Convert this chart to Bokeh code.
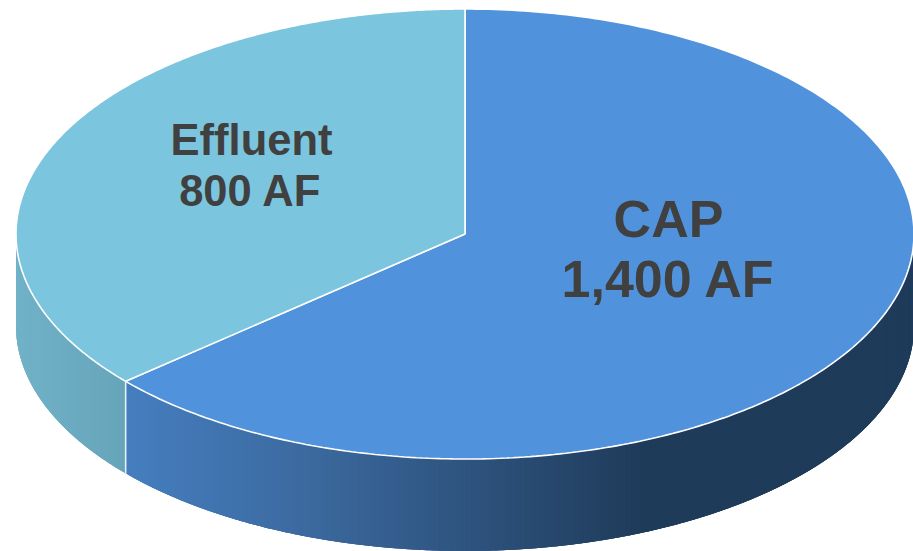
import numpy as np
from bokeh.plotting import figure
from bokeh.models import Range1d
from bokeh.embed import file_html
from bokeh.resources import INLINE
from bokeh.core.properties import value

# Data
categories = ["CAP", "Effluent"]
volumes_af = [1400, 800]
label_lines = [["CAP", "1,400 AF"], ["Effluent", "800 AF"]]

# Geometry and style (pixel space of the reference)
CX, CY, RX, RY, DEPTH = 464.5, 233.5, 449.0, 225.0, 92.0
TOP_COLORS = ["#5093DC", "#7BC6DE"]
TEXT_COLOR = "#404040"
BLUE_STOPS = [(125, (0x45, 0x7E, 0xBF)), (300, (0x3C, 0x6A, 0xA0)), (640, (0x1F, 0x3B, 0x5A)), (914, (0x1F, 0x3B, 0x5A))]
TEAL_STOPS = [(16, (0x70, 0xB2, 0xC8)), (125, (0x66, 0xA4, 0xB9))]


def ex(t):
    return CX + RX * np.sin(t)


def ey(t):
    return CY - RY * np.cos(t)


def grad(stops, x):
    xs = [s[0] for s in stops]
    c = [np.interp(x, xs, [s[1][i] for s in stops]) for i in range(3)]
    return "#%02x%02x%02x" % tuple(int(round(v)) for v in c)


p = figure(width=913, height=551, output_backend="svg", toolbar_location=None,
           x_range=Range1d(0, 913), y_range=Range1d(551, 0),
           min_border=0, outline_line_color=None, background_fill_color="white")
p.axis.visible = False
p.grid.visible = False

fractions = np.array(volumes_af, dtype=float) / sum(volumes_af)
edges = np.concatenate([[0.0], np.cumsum(fractions)]) * 2 * np.pi
split = edges[1]

# Side wall: overlapping strips painted in order, so no seams show between them
walls = [(split, np.pi / 2, BLUE_STOPS, 240), (1.5 * np.pi, split, TEAL_STOPS, 60)]
xs, ys, cols = [], [], []
for a, b, stops, n in walls:
    th = np.linspace(a, b, n + 1)
    for k in range(n):
        tt = np.linspace(th[k], th[min(k + 3, n)], 5)
        xs.append(list(ex(tt)) + list(ex(tt[::-1])))
        ys.append(list(ey(tt)) + list(ey(tt[::-1]) + DEPTH))
        cols.append(grad(stops, float(ex(th[k]))))
p.patches(xs, ys, fill_color=cols, line_color=None)

# Top slices
for i in range(len(categories)):
    tt = np.linspace(edges[i], edges[i + 1], 300)
    px = [CX] + list(ex(tt))
    py = [CY] + list(ey(tt))
    p.patch(px, py, fill_color=TOP_COLORS[i], line_color="white", line_width=1.6)

# Edge between the slices on the side wall
p.line([ex(split), ex(split)], [ey(split), ey(split) + DEPTH], line_color="#E6F0F4", line_width=1.6)

# Labels
font = value("Liberation Sans")
p.text([668, 668], [218, 278], text=label_lines[0], text_font=font, text_font_size="52px",
       text_font_style="bold", text_color=TEXT_COLOR, text_align="center", text_baseline="alphabetic")
p.text([251, 250], [139, 190], text=label_lines[1], text_font=font, text_font_size="43.5px",
       text_font_style="bold", text_color=TEXT_COLOR, text_align="center", text_baseline="alphabetic")

open("out.html", "w").write(file_html(p, INLINE))
